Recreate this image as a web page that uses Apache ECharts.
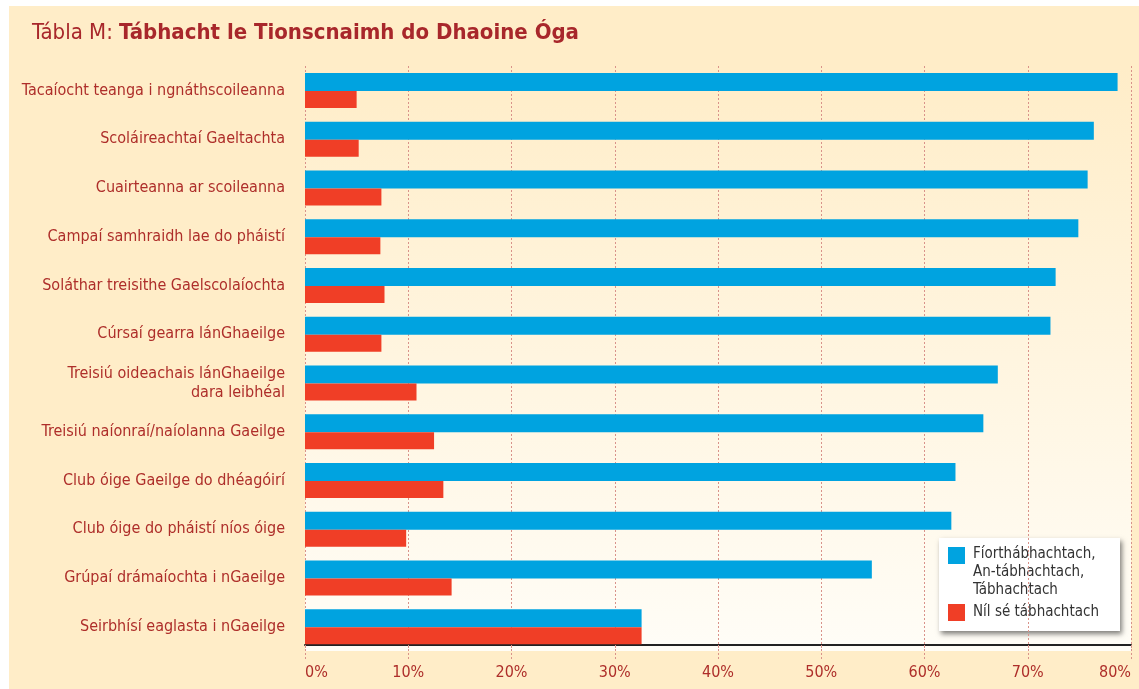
<!DOCTYPE html>
<html>
<head>
<meta charset="utf-8">
<script src="https://cdn.jsdelivr.net/npm/echarts@6/dist/echarts.min.js"></script>
<style>
  html, body { margin: 0; padding: 0; background: #ffffff; }
  #chart { position: absolute; left: 9px; top: 6px; width: 1130px; height: 683px; background: #FFEDC8; }
</style>
</head>
<body>
<div id="chart"></div>
<script>
// categories, top to bottom
const categories = [
    'Tacaíocht teanga i ngnáthscoileanna',
    'Scoláireachtaí Gaeltachta',
    'Cuairteanna ar scoileanna',
    'Campaí samhraidh lae do pháistí',
    'Soláthar treisithe Gaelscolaíochta',
    'Cúrsaí gearra lánGhaeilge',
    'Treisiú oideachais lánGhaeilge\ndara leibhéal',
    'Treisiú naíonraí/naíolanna Gaeilge',
    'Club óige Gaeilge do dhéagóirí',
    'Club óige do pháistí níos óige',
    'Grúpaí drámaíochta i nGaeilge',
    'Seirbhísí eaglasta i nGaeilge'
];
const importantValues = [78.7, 76.4, 75.8, 74.9, 72.7, 72.2, 67.1, 65.7, 63.0, 62.6, 54.9, 32.6];
const notImportantValues = [5.0, 5.2, 7.4, 7.3, 7.7, 7.4, 10.8, 12.5, 13.4, 9.8, 14.2, 32.6];
const seriesNames = ['Fíorthábhachtach,\nAn-tábhachtach,\nTábhachtach', 'Níl sé tábhachtach'];
const seriesColors = ['#00A3E0', '#F03E26'];

const FONT = '"Liberation Sans Narrow", "DejaVu Sans Condensed", "Roboto Condensed", sans-serif';
const RED_TEXT = '#AE2E2A';
const GRID_LINE = '#D9928A';

const chart = echarts.init(document.getElementById('chart'));

const option = {
    textStyle: { fontFamily: FONT },
    animation: false,
    title: {
        left: 23,
        top: 16,
        padding: 0,
        text: '{a|Tábla M: }{b|Tábhacht le Tionscnaimh do Dhaoine Óga}',
        textStyle: {
            rich: {
                a: { fontFamily: FONT, fontSize: 22, color: '#A8272B', fontWeight: 'normal' },
                b: { fontFamily: FONT, fontSize: 22, color: '#A8272B', fontWeight: 'bold' }
            }
        }
    },
    legend: { show: false },
    grid: {
        left: 296,
        right: 8,
        top: 60,
        bottom: 38,
        show: true,
        borderWidth: 0,
        backgroundColor: new echarts.graphic.LinearGradient(0, 0, 0, 1, [
            { offset: 0, color: '#FFEDC8' },
            { offset: 1, color: '#FFFDF7' }
        ])
    },
    xAxis: {
        type: 'value',
        min: 0,
        max: 80,
        interval: 10,
        offset: -6,
        axisLine: { show: true, lineStyle: { color: '#222', width: 2 } },
        axisTick: { show: true, length: 15, lineStyle: { color: GRID_LINE, type: [2, 2] } },
        splitLine: { show: true, lineStyle: { color: GRID_LINE, type: [2, 2], width: 1 } },
        axisLabel: {
            formatter: '{value}%',
            color: RED_TEXT,
            fontSize: 16,
            fontFamily: FONT,
            margin: 20,
            alignMinLabel: 'left',
            alignMaxLabel: 'right'
        }
    },
    yAxis: {
        type: 'category',
        inverse: true,
        data: categories,
        axisLine: { show: false },
        axisTick: { show: false },
        axisLabel: {
            color: RED_TEXT,
            fontSize: 16,
            fontFamily: FONT,
            margin: 20,
            lineHeight: 19
        }
    },
    series: [
        {
            name: seriesNames[0],
            type: 'bar',
            data: importantValues,
            barWidth: 18,
            barGap: '0%',
            itemStyle: { color: seriesColors[0] }
        },
        {
            name: seriesNames[1],
            type: 'bar',
            data: notImportantValues,
            barWidth: 17,
            barGap: '0%',
            itemStyle: { color: seriesColors[1] }
        }
    ],
    graphic: [
        {
            type: 'group',
            left: 930,
            top: 532,
            children: [
                {
                    type: 'rect',
                    shape: { x: 0, y: 0, width: 181, height: 93 },
                    style: {
                        fill: '#ffffff',
                        shadowBlur: 5,
                        shadowOffsetX: 2,
                        shadowOffsetY: 3,
                        shadowColor: 'rgba(0,0,0,0.5)'
                    }
                },
                { type: 'rect', shape: { x: 9, y: 9, width: 17, height: 17 }, style: { fill: seriesColors[0] } },
                {
                    type: 'text',
                    x: 34, y: 7,
                    style: { text: seriesNames[0], fill: '#333', font: '15px ' + FONT, lineHeight: 18 }
                },
                { type: 'rect', shape: { x: 9, y: 66, width: 17, height: 17 }, style: { fill: seriesColors[1] } },
                {
                    type: 'text',
                    x: 34, y: 65,
                    style: { text: seriesNames[1], fill: '#333', font: '15px ' + FONT, lineHeight: 18 }
                }
            ]
        }
    ]
};

chart.setOption(option);
</script>
</body>
</html>
